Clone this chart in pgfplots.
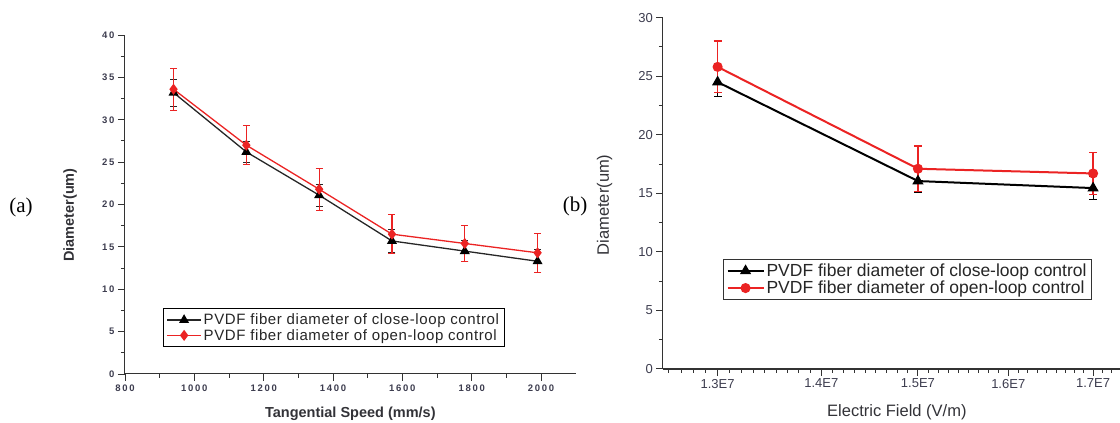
\documentclass[border=0pt]{standalone}
\usepackage{fontspec}
\setmainfont{Liberation Sans}
\newfontfamily\seriffont{Liberation Serif}
\newfontfamily\spacedfont[LetterSpace=18]{Liberation Sans}
\newfontfamily\legfont[LetterSpace=4]{Liberation Sans}
\usepackage{pgfplots}
\pgfplotsset{compat=1.18}
\definecolor{myred}{RGB}{235,35,35}
\definecolor{tickgray}{RGB}{60,60,78}
\definecolor{lblgray}{RGB}{50,50,55}

\pgfplotstableread{
x y e
940 33.2 1.6
1150 26.2 1.2
1360 21.1 1.3
1570 15.7 1.4
1780 14.5 1.2
1990 13.3 1.35
}\closeA
\pgfplotstableread{
x y e
940 33.6 2.5
1150 27.0 2.3
1360 21.8 2.5
1570 16.5 2.3
1780 15.4 2.15
1990 14.3 2.3
}\openA
% x in units of 1E7 V/m
\pgfplotstableread{
x y e
1.3 24.5 1.2
1.5 16.05 1.0
1.7 15.45 1.0
}\closeB
\pgfplotstableread{
x y e
1.3 25.8 2.2
1.5 17.1 1.95
1.7 16.7 1.8
}\openB

\begin{document}
\begin{tikzpicture}
\path[use as bounding box] (0pt,0pt) rectangle (1120pt,423pt);

\node[font=\seriffont\fontsize{21}{24}\selectfont] at (21pt,216pt) {(a)};
\node[font=\seriffont\fontsize{21}{24}\selectfont] at (575pt,217pt) {(b)};

% ---------------- panel (a)
\begin{axis}[
  at={(125pt,49pt)}, anchor=south west, scale only axis,
  width=450.7pt, height=339pt,
  xmin=800, xmax=2100, ymin=0, ymax=40,
  axis x line*=bottom, axis y line*=left,
  axis line style={-, line width=1pt, black!80},
  xtick={800,1000,...,2000}, ytick={0,5,...,40},
  minor x tick num=1, minor y tick num=1,
  tick align=outside, major tick length=7pt, minor tick length=4pt,
  every tick/.style={line width=0.9pt, black!80},
  /pgf/number format/assume math mode=true,
  /pgf/number format/1000 sep={},
  ticklabel style={font=\spacedfont\bfseries\fontsize{9.5}{11}\selectfont, text=tickgray},
  xlabel={Tangential Speed (mm/s)},
  ylabel={Diameter(um)},
  xlabel style={at={(axis description cs:0.5,-0.118)}, anchor=center, font=\bfseries\fontsize{14.5}{17}\selectfont, text=lblgray},
  ylabel style={at={(axis description cs:-0.122,0.469)}, anchor=center, font=\bfseries\fontsize{14.5}{17}\selectfont, text=lblgray},
  legend style={at={(0.0843,0.0796)}, anchor=south west, draw=black, line width=0.9pt,
     font=\legfont\fontsize{15}{18}\selectfont, inner xsep=3pt, inner ysep=3pt, row sep=-1pt, text=black!85},
  legend cell align=left,
  legend image code/.code={\draw[mark repeat=2,mark phase=2,#1] plot coordinates {(0pt,0pt) (17pt,0pt) (34pt,0pt)};},
  clip=false,
]
\addplot[black!85, line width=1.3pt, mark=triangle*, mark size=4.5pt, mark options={solid, black},
  error bars/.cd, y dir=both, y explicit, error mark=|,
  error bar style={line width=1pt, black!85},
  error mark options={mark size=3.5pt, line width=1pt, black!85}]
  table[x=x, y=y, y error=e] {\closeA};
\addlegendentry{PVDF fiber diameter of close-loop control}
\addplot[myred, line width=1.3pt, mark=diamond*, mark size=4.5pt, mark options={solid, myred},
  error bars/.cd, y dir=both, y explicit, error mark=|,
  error bar style={line width=1.1pt, myred},
  error mark options={mark size=3.5pt, line width=1.1pt, myred}]
  table[x=x, y=y, y error=e] {\openA};
\addlegendentry{PVDF fiber diameter of open-loop control}
\end{axis}

% ---------------- panel (b)
\begin{axis}[
  at={(662.7pt,54pt)}, anchor=south west, scale only axis,
  width=457.3pt, height=351.3pt,
  xmode=log, xmin=1.25, xmax=1.733, ymin=0, ymax=30,
  axis x line*=bottom, axis y line*=left,
  axis line style={-, line width=1.2pt, black!80},
  xtick={1.3,1.4,1.5,1.6,1.7},
  xticklabels={1.3E7,1.4E7,1.5E7,1.6E7,1.7E7},
  minor xtick={1.2556,1.2667,1.2778,1.2889,
    1.3111,1.3222,1.3333,1.3444,1.3556,1.3667,1.3778,1.3889,
    1.4111,1.4222,1.4333,1.4444,1.4556,1.4667,1.4778,1.4889,
    1.5111,1.5222,1.5333,1.5444,1.5556,1.5667,1.5778,1.5889,
    1.6111,1.6222,1.6333,1.6444,1.6556,1.6667,1.6778,1.6889,
    1.7111,1.7222},
  ytick={0,5,...,30}, minor y tick num=1,
  tick align=outside, major tick length=6.5pt, minor tick length=4pt,
  every tick/.style={line width=1pt, black!80},
  /pgf/number format/assume math mode=true,
  ticklabel style={font=\fontsize{13}{15}\selectfont, text=tickgray},
  xlabel={Electric Field (V/m)},
  ylabel={Diameter(um)},
  xlabel style={at={(axis description cs:0.512,-0.122)}, anchor=center, font=\fontsize{16.5}{19}\selectfont, text=lblgray},
  ylabel style={at={(axis description cs:-0.127,0.467)}, anchor=center, font=\fontsize{16.5}{19}\selectfont, text=lblgray},
  legend style={at={(0.132,0.196)}, anchor=south west, draw=black!80, line width=1pt,
     font=\fontsize{17.5}{20}\selectfont, inner xsep=3pt, inner ysep=2.5pt, row sep=-1pt, text=black!85},
  legend cell align=left,
  legend image code/.code={\draw[mark repeat=2,mark phase=2,#1] plot coordinates {(0pt,0pt) (18pt,0pt) (36pt,0pt)};},
  clip=false,
]
\addplot[black, line width=2pt, mark=triangle*, mark size=4.5pt, mark options={solid, black},
  error bars/.cd, y dir=both, y explicit, error mark=|,
  error bar style={line width=1.1pt, black},
  error mark options={mark size=4pt, line width=1.1pt, black}]
  table[x=x, y=y, y error=e] {\closeB};
\addlegendentry{PVDF fiber diameter of close-loop control}
\addplot[myred, line width=2pt, mark=*, mark size=4pt, mark options={solid, myred},
  error bars/.cd, y dir=both, y explicit, error mark=|,
  error bar style={line width=1.3pt, myred},
  error mark options={mark size=4pt, line width=1.3pt, myred}]
  table[x=x, y=y, y error=e] {\openB};
\addlegendentry{PVDF fiber diameter of open-loop control}
\end{axis}
\end{tikzpicture}
\end{document}
